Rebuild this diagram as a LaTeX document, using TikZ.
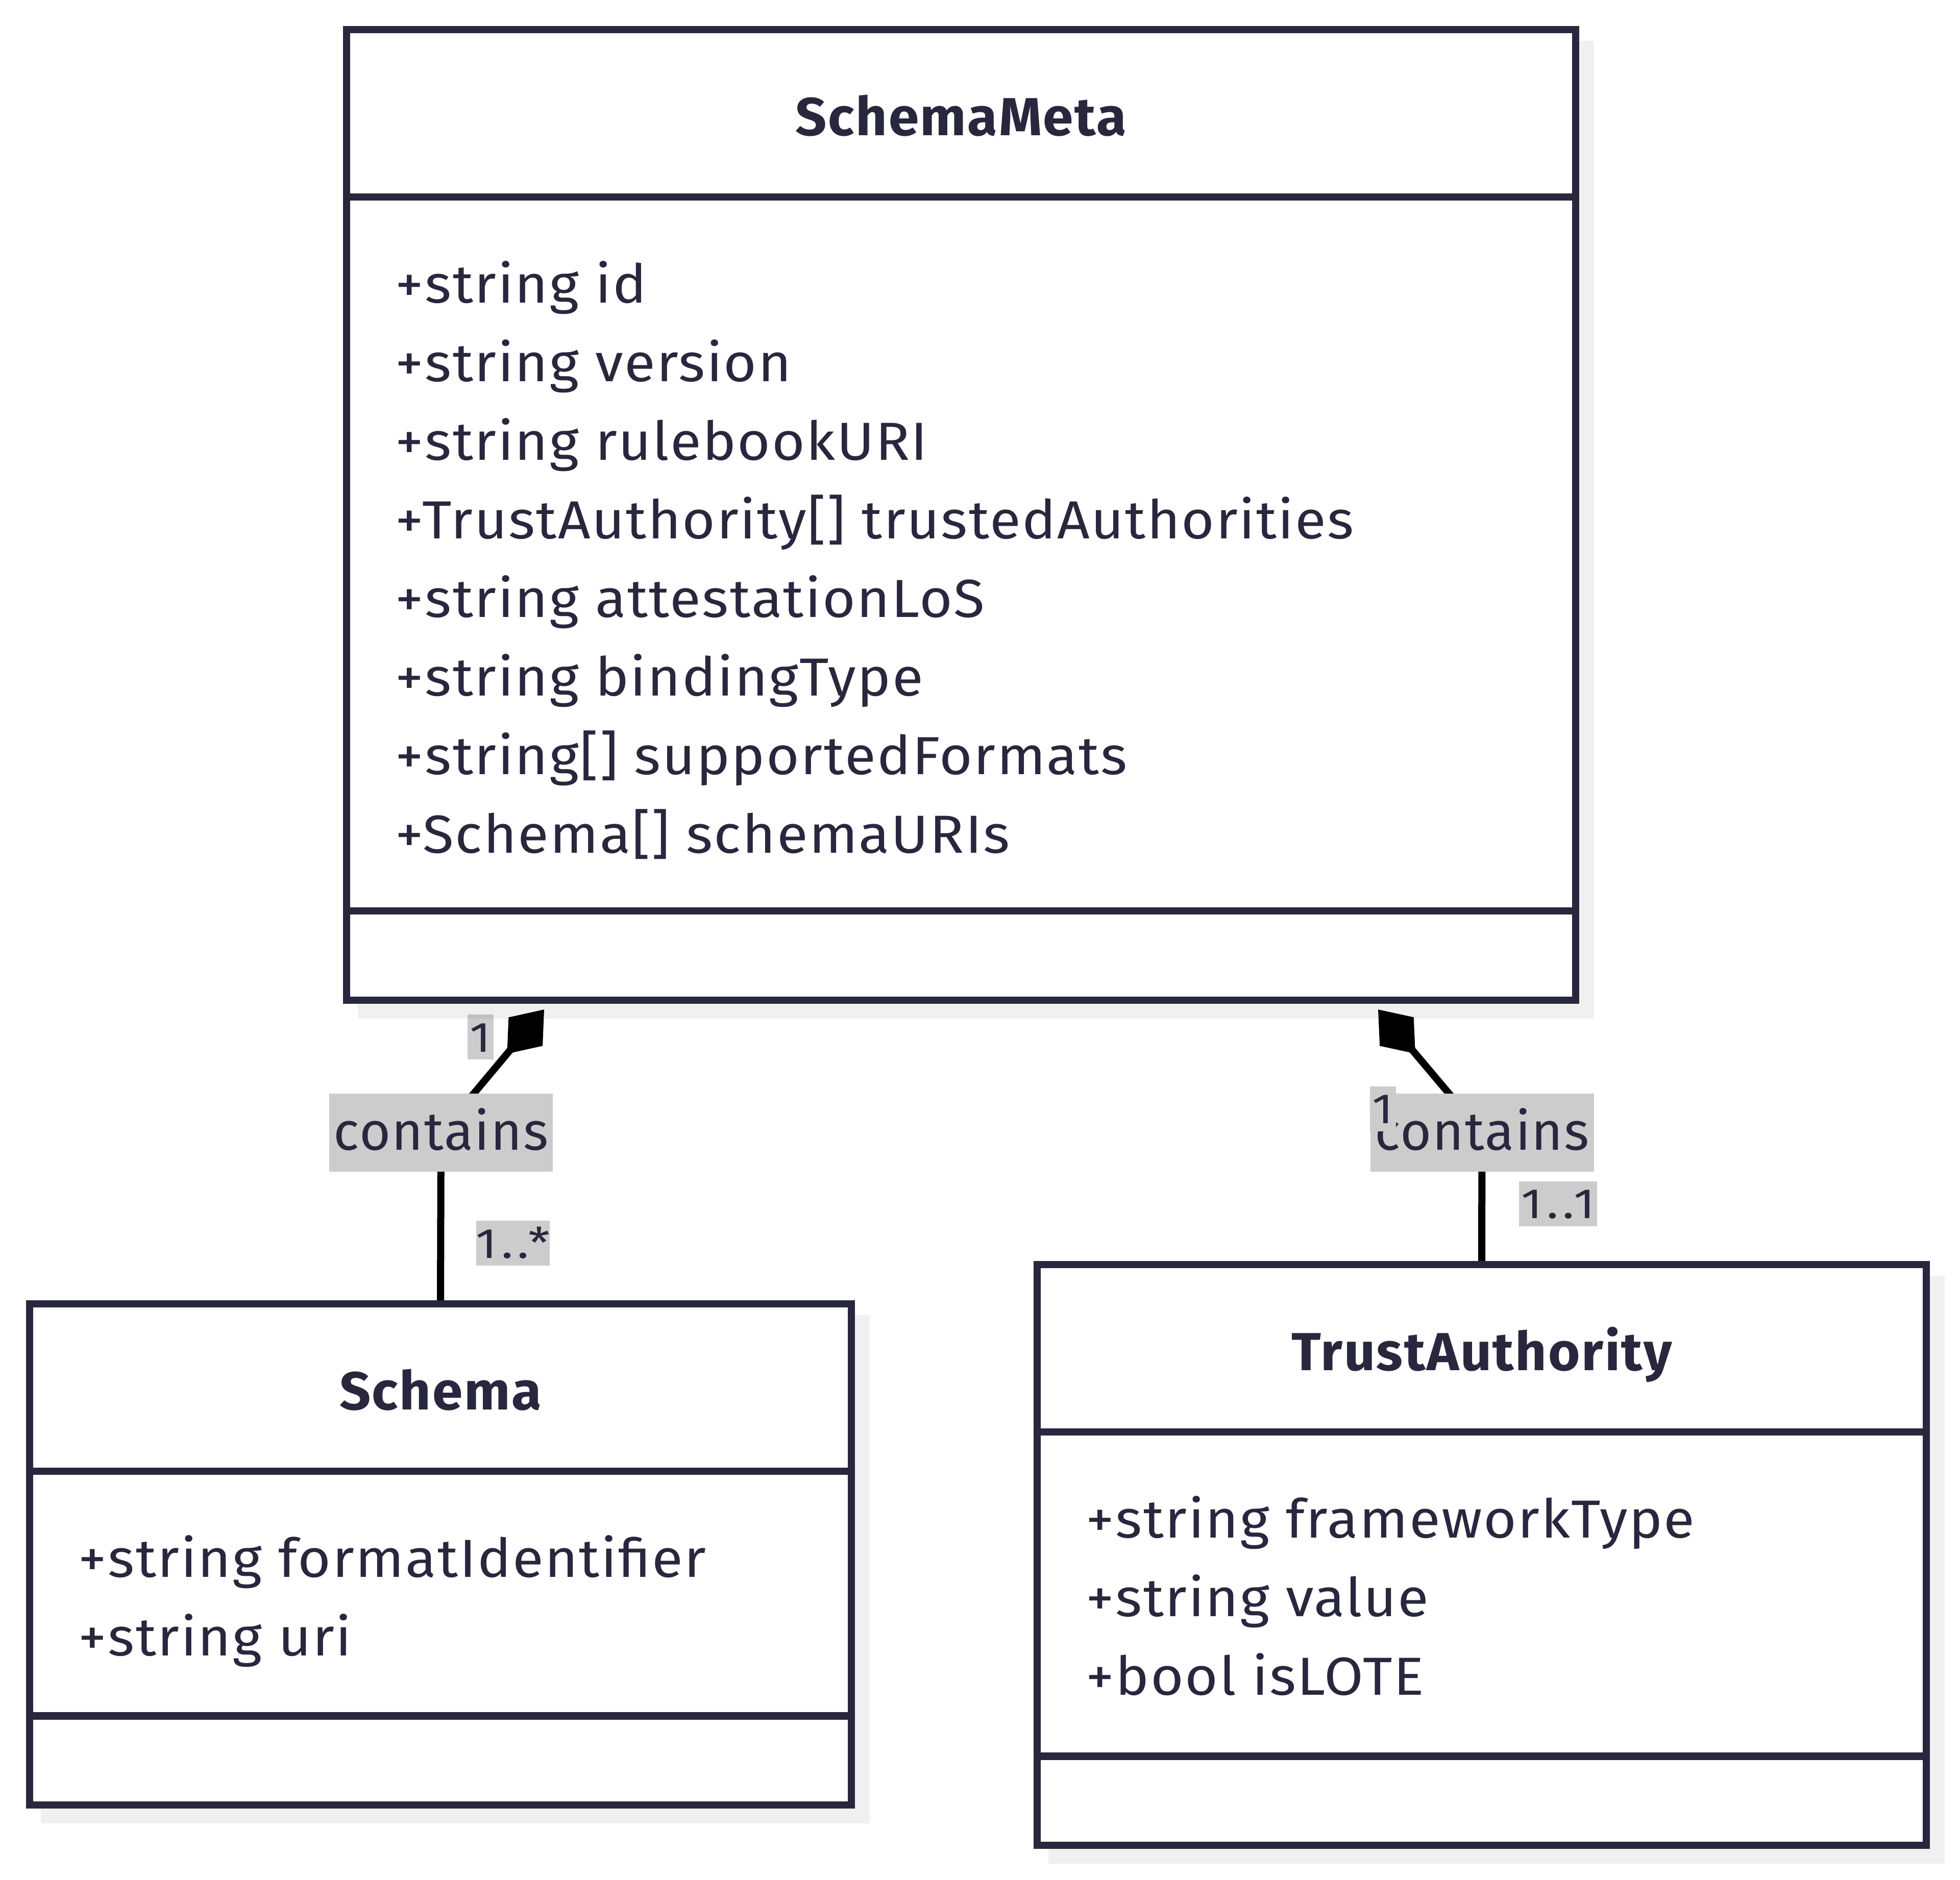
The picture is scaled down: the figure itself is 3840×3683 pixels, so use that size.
\documentclass[tikz,border=0pt]{standalone}
\usepackage{fontspec}
\setmainfont{Fira Sans}
\newfontfamily\attrfont{Fira Sans}[FakeStretch=1.06, LetterSpace=2.3]
\newfontfamily\titlefont{Fira Sans}[FakeStretch=1.02, LetterSpace=2.5]
\newfontfamily\relfont{Fira Sans}[LetterSpace=2]
\newfontfamily\cardfont{Fira Sans}[FakeStretch=1.15, LetterSpace=10]
\usepackage{tikz}
\usetikzlibrary{arrows.meta, positioning, calc}

\definecolor{ink}{RGB}{40,39,61}
\definecolor{relfill}{RGB}{204,204,204}

\pgfdeclarelayer{edges}
\pgfdeclarelayer{shadows}
\pgfsetlayers{edges,shadows,main}

\tikzset{
  classbox/.style={draw=ink, line width=1.45pt, fill=white, inner sep=0pt},
  divider/.style={draw=ink, line width=1.45pt},
  classshadow/.style={fill=black, fill opacity=0.06},
  title/.style={anchor=base, inner sep=0pt, text=ink, font=\fontsize{10.5}{12}\titlefont\bfseries},
  attr/.style={anchor=base west, inner sep=0pt, text=ink, font=\fontsize{10.5}{12}\attrfont},
  rel/.style={fill=relfill, text=ink, inner sep=0pt, minimum width=43.8pt, text height=11pt, text depth=4.3pt, font=\fontsize{10.5}{12}\relfont},
  card/.style={fill=relfill, text=ink, inner sep=0pt, text height=7.3pt, text depth=1.5pt, font=\fontsize{8.3}{10}\cardfont},
  compose/.style={draw=black, line width=1.4pt, arrows={Diamond[length=11.3pt,width=8.7pt,line width=0pt]-}}
}

\begin{document}
\begin{tikzpicture}[x=0.1pt, y=-0.1pt]
\useasboundingbox (0,0) rectangle (3840,3683);
% Classes
\node[classbox, minimum width=240.8pt, minimum height=190.2pt] (meta) at (1883,1009) {};
\node[classbox, minimum width=161.0pt, minimum height=98.2pt] (schema) at (863,3046) {};
\node[classbox, minimum width=174.2pt, minimum height=113.8pt] (trust) at (2903,3047) {};
\foreach \c in {meta,schema,trust} {
  \draw[divider] ([shift={(0,335)}]\c.north west) -- ([shift={(0,335)}]\c.north east);
  \draw[divider] ([shift={(0,-182)}]\c.south west) -- ([shift={(0,-182)}]\c.south east);
}
% Titles
\node[title] (metaTitle) at ([shift={(0,215)}]meta.north) {SchemaMeta};
\node[title] (schemaTitle) at ([shift={(0,215)}]schema.north) {Schema};
\node[title] (trustTitle) at ([shift={(0,215)}]trust.north) {TrustAuthority};
% Attributes
\foreach \a [count=\i from 0] in {+string id, +string version, +string rulebookURI,
    +TrustAuthority[] trustedAuthorities, +string attestationLoS, +string bindingType,
    +string[] supportedFormats, +Schema[] schemaURIs}
  \node[attr] at ([shift={(101,{543+154*\i})}]meta.north west) {\a};
\foreach \a [count=\i from 0] in {+string formatIdentifier, +string uri}
  \node[attr] at ([shift={(101,{543+154*\i})}]schema.north west) {\a};
\foreach \a [count=\i from 0] in {+string frameworkType, +string value, +bool isLOTE}
  \node[attr] at ([shift={(101,{543+154*\i})}]trust.north west) {\a};
% Shadows
\begin{pgfonlayer}{shadows}
\foreach \c in {meta,schema,trust}
  \fill[classshadow] ([shift={(29,29)}]\c.north west) rectangle ([shift={(29,29)}]\c.south east);
\end{pgfonlayer}
% Compositions
\begin{pgfonlayer}{edges}
\coordinate (tipL) at ([shift={(-817,11)}]meta.south);
\coordinate (tipR) at ([shift={(817,11)}]meta.south);
\coordinate (midL) at (864,2219.5);
\coordinate (midR) at (2903.5,2219.5);
\draw[compose] (tipL) -- (midL) -- (schema.north);
\draw[compose] (tipR) -- (midR) -- (trust.north);
\node[rel] (relL) at (midL) {contains};
\node[rel] (relR) at (midR) {contains};
\node[card, minimum width=5.1pt] (cardLtop) at (941.5,2032) {1};
\node[card, minimum width=13.8pt] (cardLbot) at (1005,2436) {1..*};
\node[card, minimum width=5.1pt] (cardRtop) at (2709,2172.5) {1};
\node[card, minimum width=15.3pt] (cardRbot) at (3052.5,2358.5) {1..1};
\end{pgfonlayer}
\end{tikzpicture}
\end{document}
